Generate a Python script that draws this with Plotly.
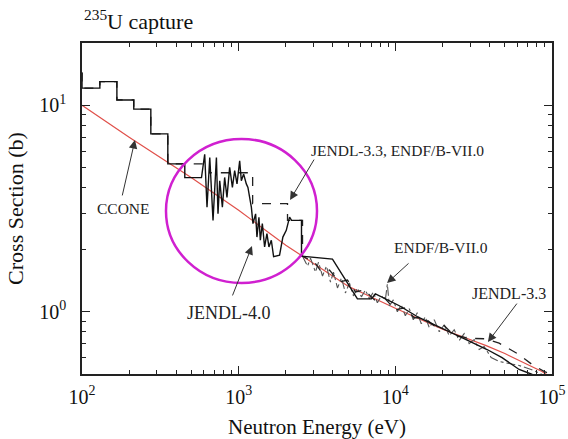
import plotly.graph_objects as go

# ---------------- data ----------------
ccone_E = [100, 200, 500, 1000, 2000, 5000, 10000, 20000, 38000, 50000, 86300, 95000]
ccone_xs = [10.0, 7.0, 4.45, 3.1, 2.1, 1.33, 1.04, 0.823, 0.686, 0.628, 0.514, 0.49]

j40_E = [100, 100, 130, 130, 167, 167, 214, 214, 275, 275, 353, 353, 453, 453, 579,
         607, 628, 654, 686, 721, 738, 757, 787, 814, 842, 876, 912, 943, 976, 1015,
         1040, 1076, 1119, 1146, 1175, 1205, 1234, 1283, 1308, 1347, 1375, 1416, 1464,
         1515, 1560, 1616, 1671, 1824, 1915, 2013, 2113, 2176, 2518, 2518, 3970, 5728,
         7031, 7460, 10605, 14200, 28300, 38500, 48000, 61700, 73500, 90000]
j40_xs = [14.4, 12.1, 12.1, 13.0, 13.0, 10.6, 10.6, 9.57, 9.57, 7.26, 7.26, 5.20, 5.20, 4.46, 4.46,
          5.79, 3.21, 5.58, 2.77, 5.58, 2.98, 4.31, 3.21, 4.47, 3.58, 5.00, 4.00, 4.82, 4.16, 5.38,
          4.31, 4.64, 4.16, 4.00, 3.58, 3.21, 2.67, 2.98, 2.30, 2.87, 2.22, 2.67, 2.06,
          2.39, 2.06, 2.22, 1.85, 1.88, 2.30, 2.48, 2.87, 2.77, 2.77, 1.86, 1.80, 1.155,
          1.155, 1.22, 1.07, 0.936, 0.733, 0.657, 0.600, 0.526, 0.50, 0.47]

j33_E = [100, 100, 130, 130, 167, 167, 214, 214, 275, 275, 353, 353, 653, 653, 1228, 1228,
         2050, 2050, 2556, 2556, 3048, 3379, 3798, 4398, 4946, 5562, 6346, 7347, 8509, 10000,
         11410, 13210, 15300, 17720, 20520, 23760, 26720, 28750, 37980, 45960, 61640, 74580,
         88920, 103000]
j33_xs = [14.4, 12.1, 12.1, 13.0, 13.0, 10.6, 10.6, 9.57, 9.57, 7.26, 7.26, 5.20, 5.20, 4.71, 4.71, 3.34,
          3.34, 2.77, 2.77, 1.858, 1.740, 1.557, 1.592, 1.394, 1.425, 1.248, 1.276, 1.142, 1.168, 1.022,
          1.045, 0.936, 0.936, 0.856, 0.856, 0.767, 0.758, 0.745, 0.740, 0.705, 0.621, 0.556,
          0.515, 0.492]

endf_E = [2556, 2751, 2874, 3094, 3233, 3428, 3635, 3855, 4029, 4272, 4530, 4803, 5093, 5401,
          5728, 6074, 6440, 6829, 7241, 7679, 8142, 8636, 8892, 9158, 9712, 10300, 10920, 11580,
          12280, 13020, 13810, 14640, 15530, 16470, 17720, 19070, 20520, 22070, 23760, 25560,
          27510, 29600, 31860, 34280, 36890, 40890, 45960, 53230, 61640, 73480, 88920]
endf_xs = [1.858, 1.664, 1.818, 1.557, 1.740, 1.490, 1.664, 1.394, 1.557, 1.304, 1.457, 1.234, 1.379, 1.194,
           1.304, 1.181, 1.276, 1.155, 1.248, 1.105, 1.194, 1.142, 1.363, 1.069, 1.142, 1.000, 1.081, 0.957,
           1.034, 0.915, 0.989, 0.876, 0.946, 0.838, 0.915, 0.801, 0.866, 0.767, 0.819, 0.726,
           0.784, 0.702, 0.733, 0.657, 0.679, 0.601, 0.575, 0.562, 0.550, 0.526, 0.492]

x_tick_vals = [100, 1000, 10000, 100000]
x_tick_text = ["10<sup>2</sup>", "10<sup>3</sup>", "10<sup>4</sup>", "10<sup>5</sup>"]
y_tick_vals = [1, 10]
y_tick_text = ["10<sup>0</sup>", "10<sup>1</sup>"]
x_minor = [m * 10 ** k for k in (2, 3, 4) for m in range(2, 10)]
y_minor = [m * 10 ** k for k in (-1, 0, 1) for m in range(2, 10)]

SERIF = "Liberation Serif"

fig = go.Figure()
fig.add_trace(go.Scatter(x=ccone_E, y=ccone_xs, mode="lines", name="CCONE",
                         line=dict(color="#e0504a", width=1.2)))
fig.add_trace(go.Scatter(x=endf_E, y=endf_xs, mode="lines", name="ENDF/B-VII.0",
                         line=dict(color="#555555", width=1.1, dash="dashdot")))
fig.add_trace(go.Scatter(x=j33_E, y=j33_xs, mode="lines", name="JENDL-3.3",
                         line=dict(color="#222222", width=1.3, dash="dash")))
fig.add_trace(go.Scatter(x=j40_E, y=j40_xs, mode="lines", name="JENDL-4.0",
                         line=dict(color="#111111", width=1.4)))

axis_common = dict(
    type="log", showline=True, linewidth=1.6, linecolor="#222222", mirror="ticks",
    ticks="inside", ticklen=8, tickwidth=1.4, tickcolor="#222222",
    showgrid=False, zeroline=False, automargin=False,
    tickfont=dict(family=SERIF, size=20, color="#111111"),
)

fig.update_xaxes(**axis_common, range=[2, 5], tickmode="array",
                 tickvals=x_tick_vals, ticktext=x_tick_text, ticklabelstandoff=4,
                 minor=dict(tickmode="array", tickvals=x_minor, ticks="inside",
                            ticklen=4, tickwidth=1.2, tickcolor="#222222", showgrid=False),
                 title=dict(text="Neutron Energy (eV)", standoff=14,
                            font=dict(family=SERIF, size=21, color="#111111")))
fig.update_yaxes(**axis_common, range=[-0.301, 1.301], tickmode="array",
                 tickvals=y_tick_vals, ticktext=y_tick_text, ticklabelstandoff=10,
                 minor=dict(tickmode="array", tickvals=y_minor, ticks="inside",
                            ticklen=4, tickwidth=1.2, tickcolor="#222222", showgrid=False),
                 title=dict(text="Cross Section (b)", standoff=10,
                            font=dict(family=SERIF, size=22, color="#111111")))

lab_font = dict(family=SERIF, size=15.5, color="#222222")
labels = [
    ("CCONE", 2.262, 0.502, 15.5),
    ("JENDL-3.3, ENDF/B-VII.0", 4.011, 0.783, 15.5),
    ("ENDF/B-VII.0", 4.291, 0.309, 15.5),
    ("JENDL-3.3", 4.725, 0.091, 16),
    ("JENDL-4.0", 2.938, -0.006, 18),
]
for text, lx, ly, fs in labels:
    fig.add_annotation(x=lx, y=ly, xref="x", yref="y", text=text, showarrow=False,
                       font=dict(family=SERIF, size=fs, color="#222222"),
                       xanchor="center", yanchor="middle")

# arrows: (tip x, tip y, tail x, tail y) in log10 axis units
arrows = [
    (2.338, 0.831, 2.255, 0.556),
    (3.328, 0.541, 3.487, 0.744),
    (3.947, 0.139, 4.094, 0.241),
    (4.591, -0.146, 4.783, 0.047),
    (3.085, 0.318, 2.957, 0.072),
]
for tx, ty, sx, sy in arrows:
    fig.add_annotation(x=tx, y=ty, xref="x", yref="y", ax=sx, ay=sy, axref="x", ayref="y",
                       text="", showarrow=True, arrowhead=2, arrowsize=1.7, arrowwidth=1,
                       arrowcolor="#333333")

fig.add_annotation(x=0.0, y=1.02, xref="paper", yref="paper", text="<sup>235</sup>U capture",
                   showarrow=False, xanchor="left", yanchor="bottom",
                   font=dict(family=SERIF, size=22, color="#111111"))

fig.add_shape(type="circle", xref="paper", yref="paper",
              x0=0.1787, x1=0.5, y0=0.275, y1=0.710,
              line=dict(color="#d020d0", width=2.5))

fig.update_layout(
    width=568, height=439,
    margin=dict(l=82, r=16, t=43, b=65),
    paper_bgcolor="white", plot_bgcolor="white",
    showlegend=False,
    font=dict(family=SERIF),
)

fig.write_html("out.html")
